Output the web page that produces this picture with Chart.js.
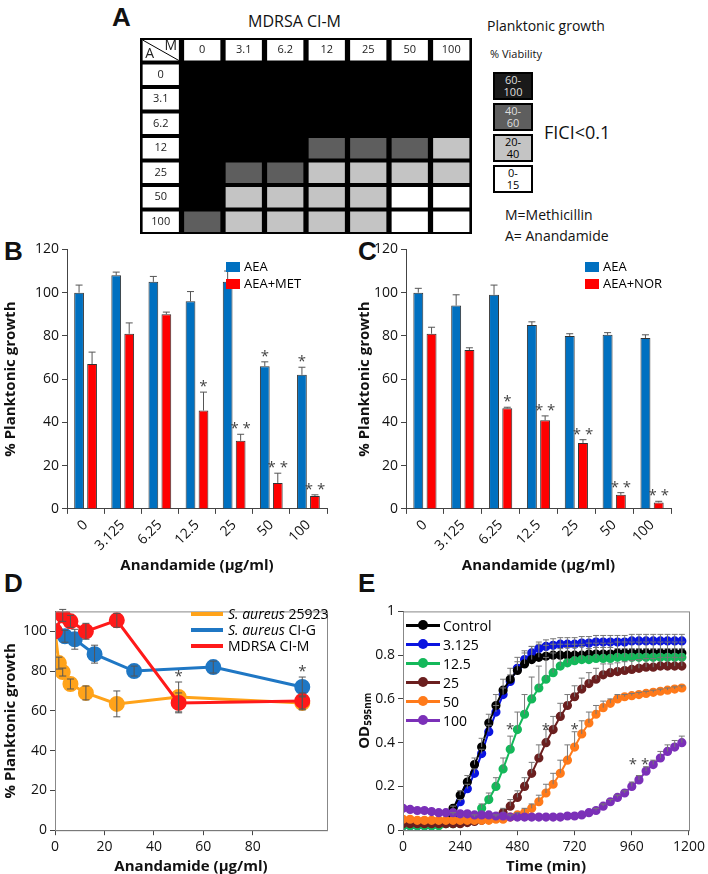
<!DOCTYPE html>
<html>
<head>
<meta charset="utf-8">
<script src="https://cdn.jsdelivr.net/npm/chart.js@4.4.0/dist/chart.umd.min.js"></script>
<style>
  body { margin: 0; background: #fff; font-family: "Open Sans", sans-serif; }
  #page { position: relative; width: 708px; height: 874px; overflow: hidden; }
  canvas, .txt, .lg { position: absolute; }
  .txt { white-space: nowrap; color: #111; }
  .pl { font-weight: bold; font-size: 26px; font-family: "Liberation Sans", sans-serif; }
  .box { position: absolute; width: 36px; height: 24px; border: 2px solid #000; font-size: 11px; line-height: 12px; text-align: center; }
  .lg { font-size: 13px; line-height: 17px; }
  .lg div { display: flex; align-items: center; }
  .sw { display: inline-block; width: 14px; height: 10px; margin-right: 4px; }
  .ln { display: inline-block; width: 32px; height: 4px; margin-right: 5px; }
  .mk { display: inline-block; position: relative; width: 34px; height: 3px; margin-right: 3px; }
  .mk::after { content: ""; position: absolute; left: 12px; top: -4px; width: 10px; height: 10px; border-radius: 50%; background: inherit; }
</style>
</head>
<body>
<div id="page">
  <div class="txt pl" style="left:112px;top:2px;">A</div>
  <div class="txt" style="left:248px;top:10px;font-size:16px;">MDRSA CI-M</div>
  <div class="txt" style="left:487px;top:16px;font-size:14px;">Planktonic growth</div>
  <div class="txt" style="left:490px;top:46px;font-size:11px;">% Viability</div>
  <div class="box" style="left:493px;top:72px;background:#1a1a1a;color:#ddd;">60-<br>100</div>
  <div class="box" style="left:493px;top:103px;background:#5e5e5e;color:#ddd;">40-<br>60</div>
  <div class="box" style="left:493px;top:134px;background:#c4c4c4;">20-<br>40</div>
  <div class="box" style="left:493px;top:165px;background:#fff;">0-<br>15</div>
  <div class="txt" style="left:544px;top:120px;font-size:18px;">FICI&lt;0.1</div>
  <div class="txt" style="left:505px;top:205px;font-size:14px;">M=Methicillin</div>
  <div class="txt" style="left:505px;top:226px;font-size:14px;">A= Anandamide</div>
  <canvas id="chA" width="332" height="196" style="left:140px;top:38px;"></canvas>

  <div class="txt pl" style="left:4px;top:236px;">B</div>
  <div class="txt pl" style="left:358px;top:236px;">C</div>
  <div class="txt pl" style="left:4px;top:568px;">D</div>
  <div class="txt pl" style="left:358px;top:568px;">E</div>
  <canvas id="chB" width="350" height="337" style="left:0;top:238px;"></canvas>
  <canvas id="chC" width="354" height="337" style="left:354px;top:238px;"></canvas>
  <canvas id="chD" width="350" height="276" style="left:0;top:600px;"></canvas>
  <canvas id="chE" width="354" height="276" style="left:354px;top:600px;"></canvas>

  <div class="lg" style="left:226px;top:258px;">
    <div><span class="sw" style="background:#0070c0"></span>AEA</div>
    <div><span class="sw" style="background:#ff0000"></span>AEA+MET</div>
  </div>
  <div class="lg" style="left:585px;top:258px;">
    <div><span class="sw" style="background:#0070c0"></span>AEA</div>
    <div><span class="sw" style="background:#ff0000"></span>AEA+NOR</div>
  </div>
  <div class="lg" style="left:191px;top:606px;font-size:14px;line-height:16px;">
    <div><span class="ln" style="background:#ffa31a"></span><i>S. aureus</i>&nbsp;25923</div>
    <div><span class="ln" style="background:#1f77c4"></span><i>S. aureus</i>&nbsp;CI-G</div>
    <div><span class="ln" style="background:#ff1a1a"></span>MDRSA CI-M</div>
  </div>
  <div class="lg" style="left:406px;top:616px;font-size:14px;line-height:19px;">
    <div><span class="mk" style="background:#000"></span>Control</div>
    <div><span class="mk" style="background:#0a14e0"></span>3.125</div>
    <div><span class="mk" style="background:#14b85a"></span>12.5</div>
    <div><span class="mk" style="background:#6b1f1f"></span>25</div>
    <div><span class="mk" style="background:#ff7a1a"></span>50</div>
    <div><span class="mk" style="background:#7b30b8"></span>100</div>
  </div>
</div>
<script>
// ===== DATA =====
// A: checkerboard, rows = anandamide, cols = methicillin, level 3 = 60-100 ... 0 = 0-15
const gridCols = ['0', '3.1', '6.2', '12', '25', '50', '100'];
const gridRows = ['0', '3.1', '6.2', '12', '25', '50', '100'];
const gridLevels = [
    [3, 3, 3, 3, 3, 3, 3],
    [3, 3, 3, 3, 3, 3, 3],
    [3, 3, 3, 3, 3, 3, 3],
    [3, 3, 3, 2, 2, 2, 1],
    [3, 2, 2, 1, 1, 1, 1],
    [3, 1, 1, 1, 1, 0, 0],
    [2, 1, 1, 1, 1, 0, 0]
];
const levelColors = ['#ffffff', '#c4c4c4', '#5e5e5e', '#000000'];

// B / C
const concLabels = ['0', '3.125', '6.25', '12.5', '25', '50', '100'];
const aeaB = [100, 108, 105, 96, 105, 66, 62];
const aeaBErr = [3.5, 1.5, 2.5, 4.5, 5, 2, 3.5];
const aeaBStars = ['', '', '', '', '', '*', '*'];
const metB = [67, 81, 90, 45.5, 31.5, 12, 6];
const metBErr = [5.5, 5, 1, 8.5, 3, 4.5, 0.5];
const metBStars = ['', '', '', '*', '**', '**', '**'];
const aeaC = [100, 94, 99, 85, 80, 80.5, 79];
const aeaCErr = [2, 5, 4.5, 1.5, 1, 1, 1.5];
const norC = [81, 73.5, 46.5, 41, 30.5, 6.5, 3];
const norCErr = [3, 1, 0.5, 2, 1.5, 1, 0.5];
const norCStars = ['', '', '*', '**', '**', '**', '**'];

// D
const x25923 = [0, 1.56, 3.125, 6.25, 12.5, 25, 50, 100];
const y25923 = [100, 84, 79.5, 73.5, 69, 63.5, 67, 64];
const e25923 = [0, 3, 2, 2.5, 3.5, 6.5, 7.5, 3.5];
const xCIG = [0, 4, 8, 16, 32, 64, 100];
const yCIG = [100, 97.5, 96, 88.5, 80, 82, 72];
const eCIG = [0, 3, 5, 4.5, 2.5, 3, 5];
const sCIG = ['', '', '', '', '', '', '*'];
const xCIM = [0, 3.125, 6.25, 12.5, 25, 50, 100];
const yCIM = [100, 108, 105, 100, 105.5, 64, 65];
const eCIM = [0, 3, 3, 4, 3.5, 5, 4];
const s25923 = ['', '', '', '', '', '', '*', ''];

// E: growth curves, every 30 min
const timeMin = [0, 30, 60, 90, 120, 150, 180, 210, 240, 270,
    300, 330, 360, 390, 420, 450, 480, 510, 540, 570,
    600, 630, 660, 690, 720, 750, 780, 810, 840, 870,
    900, 930, 960, 990, 1020, 1050, 1080, 1110, 1140, 1170];
const odControl = [.03, .03, .03, .03, .03, .03, .04, .10, .16, .22,
    .30, .38, .49, .57, .64, .69, .73, .76, .78, .79,
    .795, .80, .80, .80, .80, .80, .805, .805, .805, .805,
    .81, .81, .81, .81, .81, .81, .81, .81, .81, .81];
const od3125 = [.02, .02, .02, .02, .02, .03, .04, .07, .13, .19,
    .26, .35, .45, .54, .62, .68, .74, .78, .81, .83,
    .84, .845, .85, .85, .85, .855, .855, .86, .86, .86,
    .86, .86, .865, .865, .865, .865, .865, .865, .865, .865];
const od125 = [.02, .02, .02, .02, .02, .02, .03, .03, .04, .05,
    .06, .10, .14, .20, .28, .37, .46, .53, .60, .65,
    .69, .72, .75, .765, .775, .78, .78, .785, .785, .785,
    .79, .79, .79, .79, .79, .79, .79, .79, .79, .79];
const od25 = [.03, .03, .03, .03, .03, .03, .03, .03, .03, .035,
    .04, .045, .05, .06, .08, .11, .15, .20, .26, .33,
    .40, .46, .52, .57, .61, .645, .67, .69, .71, .72,
    .725, .73, .735, .74, .745, .745, .75, .75, .75, .75];
const od50 = [.05, .05, .045, .045, .045, .045, .045, .045, .045, .045,
    .045, .045, .045, .05, .05, .06, .07, .08, .10, .13,
    .17, .21, .26, .32, .38, .44, .49, .53, .56, .58,
    .60, .61, .615, .62, .625, .63, .635, .64, .645, .65];
const od100 = [.10, .095, .09, .09, .085, .08, .08, .08, .075, .075,
    .07, .07, .07, .065, .065, .06, .06, .06, .06, .06,
    .06, .06, .06, .065, .065, .07, .08, .09, .11, .13,
    .15, .17, .20, .23, .27, .30, .33, .36, .38, .40];
const errControl = [0, 0, 0, 0, 0, 0, 0, .01, .02, .03,
    .03, .04, .04, .05, .05, .05, .06, .06, .06, .06,
    .05, .05, .05, .05, .05, .05, .05, .05, .05, .05,
    .05, .05, .05, .05, .05, .05, .05, .05, .05, .05];
const err3125 = [0, 0, 0, 0, 0, 0, 0, .01, .01, .02,
    .02, .02, .03, .03, .03, .03, .03, .03, .03, .03,
    .03, .03, .03, .03, .03, .03, .03, .03, .03, .03,
    .03, .03, .03, .03, .03, .03, .03, .03, .03, .03];
const err125 = [0, 0, 0, 0, 0, 0, 0, 0, 0, 0,
    .01, .02, .03, .04, .05, .06, .08, .09, .10, .10,
    .10, .09, .08, .07, .06, .06, .05, .05, .05, .05,
    .04, .04, .04, .04, .04, .04, .04, .04, .04, .04];
const err25 = [0, 0, 0, 0, 0, 0, 0, 0, 0, 0,
    0, 0, 0, .01, .02, .03, .03, .04, .05, .06,
    .06, .06, .06, .05, .05, .05, .05, .05, .05, .04,
    .04, .04, .04, .04, .04, .04, .04, .04, .04, .04];
const err50 = [0, 0, 0, 0, 0, 0, 0, 0, 0, 0,
    0, 0, 0, 0, 0, .01, .01, .02, .02, .03,
    .04, .05, .06, .07, .07, .06, .05, .04, .03, .02,
    .02, .01, .01, .01, .01, .01, .01, .01, .01, .01];
const err100 = [0, 0, 0, 0, 0, 0, 0, 0, 0, 0,
    0, 0, 0, 0, 0, 0, 0, 0, 0, 0,
    0, 0, 0, 0, 0, 0, 0, .01, .01, .01,
    .01, .01, .02, .02, .02, .02, .03, .03, .03, .03];
const starsE = [
    { x: 450, y: .44, t: '*' }, { x: 600, y: .44, t: '*' },
    { x: 720, y: .44, t: '*' }, { x: 990, y: .28, t: '**' }
];

// ===== COMMON =====
const FONT = 'Open Sans';
Chart.defaults.font.family = FONT;
Chart.defaults.color = '#111';
Chart.defaults.animation = false;

const pairs = (xs, ys) => xs.map((x, i) => ({ x: x, y: ys[i] }));

// error bars + significance stars from dataset.err / dataset.stars
const errPlugin = {
    id: 'errbars',
    afterDatasetsDraw(chart) {
        const ctx = chart.ctx, ys = chart.scales.y;
        chart.data.datasets.forEach((ds, di) => {
            if (!ds.err) return;
            const meta = chart.getDatasetMeta(di);
            ctx.save();
            ctx.strokeStyle = ds.errColor || '#555';
            ctx.lineWidth = 1;
            meta.data.forEach((el, i) => {
                const v = ds.data[i].y !== undefined ? ds.data[i].y : ds.data[i];
                const e = ds.err[i] || 0;
                const top = ys.getPixelForValue(v + e);
                const cap = ds.cap || 3.5;
                if (e > 0) {
                    const bot = ds.errBoth ? ys.getPixelForValue(v - e) : el.y;
                    ctx.beginPath();
                    ctx.moveTo(el.x, top); ctx.lineTo(el.x, bot);
                    ctx.moveTo(el.x - cap, top); ctx.lineTo(el.x + cap, top);
                    if (ds.errBoth) { ctx.moveTo(el.x - cap, bot); ctx.lineTo(el.x + cap, bot); }
                    ctx.stroke();
                }
                if (ds.stars && ds.stars[i]) {
                    ctx.fillStyle = '#444';
                    ctx.font = '15px ' + FONT;
                    ctx.textAlign = 'center';
                    ctx.fillText(ds.stars[i].split('').join(' '), el.x, top - 1);
                }
            });
            ctx.restore();
        });
    }
};

// plot frame
const framePlugin = {
    id: 'frame',
    afterDraw(chart) {
        const a = chart.chartArea, ctx = chart.ctx;
        ctx.save();
        ctx.strokeStyle = '#888';
        ctx.lineWidth = 1;
        ctx.strokeRect(a.left + 0.5, a.top + 0.5, a.right - a.left, a.bottom - a.top);
        ctx.restore();
    }
};

// keep only ticks up to a limit (axis runs a bit past the last label)
const capTicks = lim => s => { s.ticks = s.ticks.filter(t => t.value <= lim); };

function axisCommon(extra) {
    return Object.assign({
        grid: { drawOnChartArea: false, tickLength: 5, color: '#444' },
        border: { color: '#444' },
        ticks: { font: { size: 14 }, color: '#111' }
    }, extra);
}

// ===== A: checkerboard =====
(function () {
    const labels = ['hdr'].concat(gridCols);
    const rowsAll = ['hdr'].concat(gridRows);
    const datasets = rowsAll.map((r, ri) => ({
        data: labels.map(() => 1),
        backgroundColor: labels.map((c, ci) => {
            if (ri === 0 || ci === 0) return '#fff';
            return levelColors[gridLevels[ri - 1][ci - 1]];
        }),
        borderColor: '#000',
        borderWidth: 2,
        borderSkipped: false,
        barPercentage: 1,
        categoryPercentage: 0.97
    }));
    const mid = el => (el.y + el.base) / 2;
    const textPlugin = {
        id: 'cellText',
        beforeDatasetsDraw(chart) {
            const a = chart.chartArea, ctx = chart.ctx;
            ctx.save();
            ctx.fillStyle = '#000';
            ctx.fillRect(a.left, a.top, a.right - a.left, a.bottom - a.top);
            ctx.restore();
        },
        afterDatasetsDraw(chart) {
            const ctx = chart.ctx;
            ctx.save();
            ctx.fillStyle = '#222';
            ctx.textAlign = 'center';
            ctx.textBaseline = 'middle';
            ctx.font = '11px ' + FONT;
            const head = chart.getDatasetMeta(0).data;
            head.forEach((el, ci) => {
                if (ci > 0) ctx.fillText(gridCols[ci - 1], el.x, mid(el));
            });
            chart.data.datasets.forEach((ds, ri) => {
                if (ri === 0) return;
                const el = chart.getDatasetMeta(ri).data[0];
                ctx.fillText(gridRows[ri - 1], el.x, mid(el));
            });
            // corner cell
            const c = head[0];
            const x0 = c.x - c.width / 2, x1 = c.x + c.width / 2;
            const y0 = Math.min(c.y, c.base), y1 = Math.max(c.y, c.base);
            ctx.strokeStyle = '#000';
            ctx.lineWidth = 1;
            ctx.beginPath(); ctx.moveTo(x0 + 2, y0 + 2); ctx.lineTo(x1 - 2, y1 - 2); ctx.stroke();
            ctx.font = '14px ' + FONT;
            ctx.fillText('M', x1 - 10, y0 + 8);
            ctx.fillText('A', x0 + 9, y1 - 8);
            ctx.restore();
        }
    };
    new Chart(document.getElementById('chA'), {
        type: 'bar',
        data: { labels: labels, datasets: datasets },
        options: {
            responsive: false,
            layout: { padding: 0 },
            plugins: { legend: { display: false }, tooltip: { enabled: false } },
            scales: {
                x: { display: false, stacked: true },
                y: { display: false, stacked: true, reverse: true, min: 0, max: 8 }
            }
        },
        plugins: [textPlugin]
    });
})();

// ===== B, C: bar charts =====
function barChart(id, aea, aeaErr, aeaStars, combo, comboErr, comboStars, yWidth, padRight) {
    new Chart(document.getElementById(id), {
        type: 'bar',
        data: {
            labels: concLabels,
            datasets: [
                { data: aea, err: aeaErr, stars: aeaStars, backgroundColor: '#0070c0', borderColor: '#333', borderWidth: 1, barPercentage: 0.75, categoryPercentage: 0.7 },
                { data: combo, err: comboErr, stars: comboStars, backgroundColor: '#ff0000', borderColor: '#333', borderWidth: 1, barPercentage: 0.75, categoryPercentage: 0.7 }
            ]
        },
        options: {
            responsive: false,
            layout: { padding: { top: 10, right: padRight } },
            plugins: { legend: { display: false }, tooltip: { enabled: false } },
            scales: {
                x: axisCommon({
                    ticks: { font: { size: 14 }, color: '#111', maxRotation: 45, minRotation: 45 },
                    title: { display: true, text: 'Anandamide (µg/ml)', font: { size: 15, weight: 'bold' }, padding: 0 }
                }),
                y: axisCommon({
                    min: 0, max: 120,
                    ticks: { font: { size: 14 }, color: '#111', stepSize: 20 },
                    title: { display: true, text: '% Planktonic growth', font: { size: 15, weight: 'bold' }, padding: 2 },
                    afterFit: s => { s.width = yWidth; }
                })
            }
        },
        plugins: [errPlugin]
    });
}
barChart('chB', aeaB, aeaBErr, aeaBStars, metB, metBErr, metBStars, 67, 23);
barChart('chC', aeaC, aeaCErr, [], norC, norCErr, norCStars, 52, 37);

// ===== D: dose response =====
new Chart(document.getElementById('chD'), {
    type: 'scatter',
    data: {
        datasets: [
            { data: pairs(xCIM, yCIM), err: eCIM, errBoth: true, showLine: true, borderColor: '#ff1a1a', backgroundColor: '#ff1a1a', borderWidth: 3, pointRadius: 6.5 },
            { data: pairs(xCIG, yCIG), err: eCIG, stars: sCIG, errBoth: true, showLine: true, borderColor: '#1f77c4', backgroundColor: '#1f77c4', borderWidth: 3, pointRadius: 6.5 },
            { data: pairs(x25923, y25923), err: e25923, stars: s25923, errBoth: true, showLine: true, borderColor: '#ffa31a', backgroundColor: '#ffa31a', borderWidth: 3, pointRadius: 6.5 }
        ]
    },
    options: {
        responsive: false,
        layout: { padding: { top: 10, right: 23 } },
        plugins: { legend: { display: false }, tooltip: { enabled: false } },
        scales: {
            x: axisCommon({
                min: 0, max: 110,
                ticks: { font: { size: 14 }, color: '#111', stepSize: 20, autoSkip: false },
                afterBuildTicks: capTicks(100),
                title: { display: true, text: 'Anandamide (µg/ml)', font: { size: 15, weight: 'bold' }, padding: 0 }
            }),
            y: axisCommon({
                min: 0, max: 110,
                ticks: { font: { size: 14 }, color: '#111', stepSize: 20, autoSkip: false },
                afterBuildTicks: capTicks(100),
                title: { display: true, text: '% Planktonic growth', font: { size: 15, weight: 'bold' }, padding: 2 },
                afterFit: s => { s.width = 55; }
            })
        }
    },
    plugins: [errPlugin, framePlugin]
});

// ===== E: growth curves =====
const eSeries = [
    { y: od100, e: err100, c: '#7b30b8' },
    { y: od50, e: err50, c: '#ff7a1a' },
    { y: od25, e: err25, c: '#6b1f1f' },
    { y: od125, e: err125, c: '#14b85a' },
    { y: odControl, e: errControl, c: '#000000' },
    { y: od3125, e: err3125, c: '#0a14e0' }
];
const starPluginE = {
    id: 'starsE',
    afterDatasetsDraw(chart) {
        const ctx = chart.ctx;
        ctx.save();
        ctx.fillStyle = '#444';
        ctx.font = '15px ' + FONT;
        ctx.textAlign = 'center';
        starsE.forEach(s => {
            ctx.fillText(s.t.split('').join(' '), chart.scales.x.getPixelForValue(s.x), chart.scales.y.getPixelForValue(s.y));
        });
        ctx.restore();
    }
};
new Chart(document.getElementById('chE'), {
    type: 'scatter',
    data: {
        datasets: eSeries.map(s => ({
            data: pairs(timeMin, s.y), err: s.e, errColor: '#777', cap: 3,
            showLine: true, borderColor: s.c, backgroundColor: s.c, borderWidth: 2, pointRadius: 3.6
        }))
    },
    options: {
        responsive: false,
        layout: { padding: { top: 10, right: 19 } },
        plugins: { legend: { display: false }, tooltip: { enabled: false } },
        scales: {
            x: axisCommon({
                min: 0, max: 1200,
                ticks: { font: { size: 14 }, color: '#111', stepSize: 240, callback: v => String(v) },
                title: { display: true, text: 'Time (min)', font: { size: 15, weight: 'bold' }, padding: 0 }
            }),
            y: axisCommon({
                min: 0, max: 1,
                ticks: { font: { size: 14 }, color: '#111', stepSize: 0.2, callback: v => v === 0 ? '0' : (v === 1 ? '1' : v.toFixed(1)) },
                title: { display: true, text: 'OD₅₉₅ₙₘ', font: { size: 15, weight: 'bold' }, padding: 2 },
                afterFit: s => { s.width = 49; }
            })
        }
    },
    plugins: [errPlugin, starPluginE, framePlugin]
});
</script>
</body>
</html>
